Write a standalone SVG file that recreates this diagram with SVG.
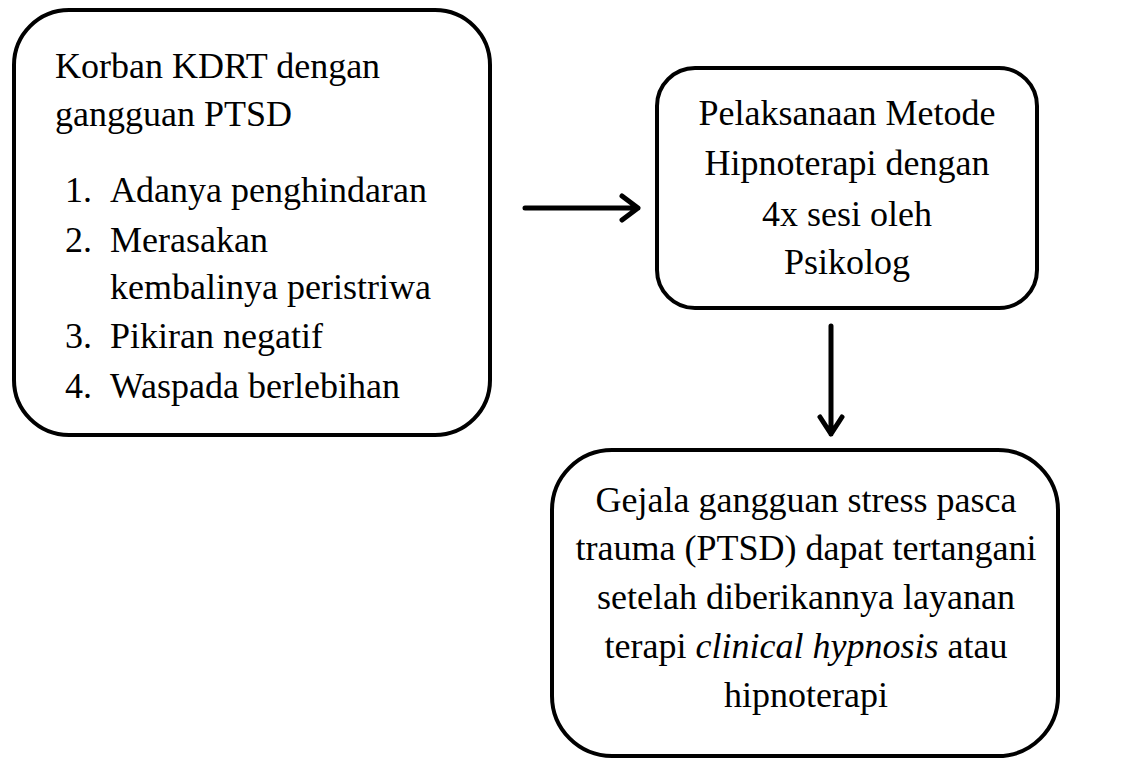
<svg xmlns="http://www.w3.org/2000/svg" width="1124" height="760" viewBox="0 0 1124 760">
<defs>
<style>
.box{fill:#fff;stroke:#000;stroke-width:4}
.con{fill:none;stroke:#000;stroke-width:5;stroke-linecap:round;stroke-linejoin:round}
</style>
</defs>
<rect width="1124" height="760" fill="#fff"/>
<g id="node1">
<rect class="box" x="14" y="10" width="476" height="425" rx="55" ry="55"/>
<text font-family="Liberation Serif" font-size="36" x="55" y="78">Korban KDRT dengan</text>
<text font-family="Liberation Serif" font-size="36" x="55" y="126">gangguan PTSD</text>
<text font-family="Liberation Serif" font-size="36" x="65" y="202">1.</text><text font-family="Liberation Serif" font-size="36" x="110" y="202">Adanya penghindaran</text>
<text font-family="Liberation Serif" font-size="36" x="65" y="252">2.</text><text font-family="Liberation Serif" font-size="36" x="110" y="252">Merasakan</text>
<text font-family="Liberation Serif" font-size="36" x="110" y="299">kembalinya peristriwa</text>
<text font-family="Liberation Serif" font-size="36" x="65" y="348">3.</text><text font-family="Liberation Serif" font-size="36" x="110" y="348">Pikiran negatif</text>
<text font-family="Liberation Serif" font-size="36" x="65" y="398">4.</text><text font-family="Liberation Serif" font-size="36" x="110" y="398">Waspada berlebihan</text>
</g>
<g id="node2">
<rect class="box" x="657" y="68" width="380" height="240" rx="38" ry="38"/>
<text font-family="Liberation Serif" font-size="36" text-anchor="middle" x="847" y="125">Pelaksanaan Metode</text>
<text font-family="Liberation Serif" font-size="36" text-anchor="middle" x="847" y="175">Hipnoterapi dengan</text>
<text font-family="Liberation Serif" font-size="36" text-anchor="middle" x="847" y="226">4x sesi oleh</text>
<text font-family="Liberation Serif" font-size="36" text-anchor="middle" x="847" y="274">Psikolog</text>
</g>
<g id="node3">
<rect class="box" x="552" y="450" width="506" height="306" rx="60" ry="60"/>
<text font-family="Liberation Serif" font-size="36" text-anchor="middle" x="806" y="512">Gejala gangguan stress pasca</text>
<text font-family="Liberation Serif" font-size="36" text-anchor="middle" x="806" y="560">trauma (PTSD) dapat tertangani</text>
<text font-family="Liberation Serif" font-size="36" text-anchor="middle" x="806" y="609">setelah diberikannya layanan</text>
<text font-family="Liberation Serif" font-size="36" text-anchor="middle" x="806" y="658">terapi <tspan font-style="italic">clinical hypnosis</tspan> atau</text>
<text font-family="Liberation Serif" font-size="36" text-anchor="middle" x="806" y="707">hipnoterapi</text>
</g>
<g id="connectors">
<path class="con" d="M525 208 H638 M622 196 L638 208 L622 220"/>
<path class="con" d="M831 326 V434 M820 417 L831 434 L842 417"/>
</g>
</svg>
